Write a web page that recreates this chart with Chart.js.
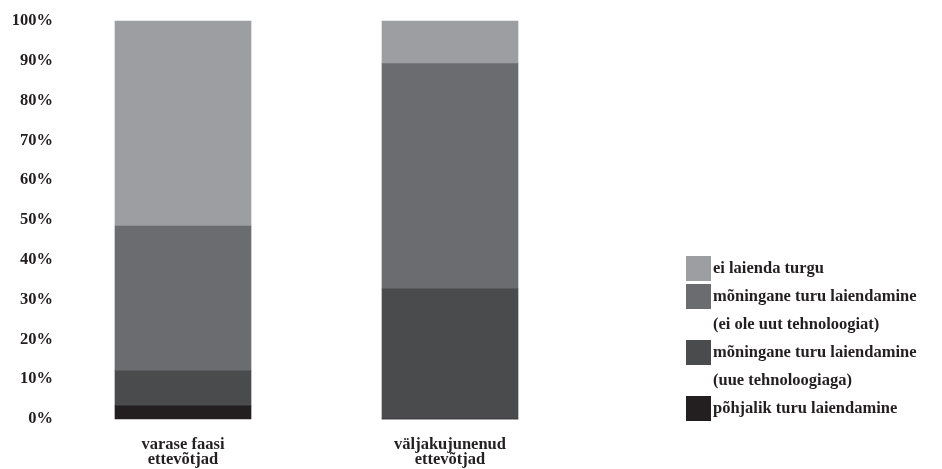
<!DOCTYPE html>
<html>
<head>
<meta charset="utf-8">
<script src="https://cdn.jsdelivr.net/npm/chart.js@4"></script>
<style>
  body { margin: 0; background: #fff; }
  #wrap { width: 942px; height: 469px; }
</style>
</head>
<body>
<div id="wrap"><canvas id="chart" width="942" height="469"></canvas></div>
<script>
// ==================== DATA ====================
var categories = [["varase faasi", "ettevõtjad"], ["väljakujunenud", "ettevõtjad"]];

// stack order: bottom first
var pohjalik = [3.3, 0];
var uueTehnoloogiaga = [8.8, 32.7];
var eiOleUut = [36.4, 56.6];
var eiLaienda = [51.5, 10.7];

var seriesLabels = [
    ["põhjalik turu laiendamine"],
    ["mõningane turu laiendamine", "(uue tehnoloogiaga)"],
    ["mõningane turu laiendamine", "(ei ole uut tehnoloogiat)"],
    ["ei laienda turgu"]
];
var seriesColors = ["#231f20", "#4a4b4d", "#6b6c70", "#9d9ea2"];

var yTicks = [0, 10, 20, 30, 40, 50, 60, 70, 80, 90, 100];

var textColor = "#231f20";
var serif = "'Liberation Serif', 'DejaVu Serif', serif";

// ==================== LEGEND ====================
// drawn by hand so the two-line labels sit like in the original
var sideLegend = {
    id: "sideLegend",
    afterDraw: function(chart) {
        var ctx = chart.ctx;
        var ds = chart.data.datasets;
        var x = 686, y = 269, step = 28;
        ctx.save();
        ctx.font = "bold 16.5px " + serif;
        ctx.textBaseline = "middle";
        ctx.textAlign = "left";
        for (var i = ds.length - 1; i >= 0; i--) {
            var lines = seriesLabels[i];
            ctx.fillStyle = ds[i].backgroundColor;
            ctx.fillRect(x, y - 13, 25, 25);
            ctx.fillStyle = textColor;
            for (var j = 0; j < lines.length; j++) {
                ctx.fillText(lines[j], x + 27, y);
                y += step;
            }
        }
        ctx.restore();
    }
};

// ==================== CHART ====================
var datasets = [];
var values = [pohjalik, uueTehnoloogiaga, eiOleUut, eiLaienda];
for (var i = 0; i < values.length; i++) {
    datasets.push({
        label: seriesLabels[i].join(" "),
        data: values[i],
        backgroundColor: seriesColors[i],
        borderWidth: 0,
        barThickness: 136,
        clip: false
    });
}

// chart area spans from the first bar centre to the second (x offset off),
// the y axis box is widened to fill the space on the left
new Chart(document.getElementById("chart"), {
    type: "bar",
    data: { labels: categories, datasets: datasets },
    plugins: [sideLegend],
    options: {
        responsive: false,
        animation: false,
        layout: { padding: { left: 0, top: 21, right: 492, bottom: 0 } },
        plugins: { legend: { display: false }, tooltip: { enabled: false } },
        scales: {
            x: {
                stacked: true,
                offset: false,
                grid: { display: false, drawTicks: false },
                border: { display: false },
                afterFit: function(s) {
                    s.height = 50;
                    s.paddingLeft = 0;
                    s.paddingRight = 0;
                },
                ticks: {
                    color: textColor,
                    padding: 18.5,
                    maxRotation: 0,
                    autoSkip: false,
                    font: { family: serif, weight: "bold", size: 16.5, lineHeight: 0.9 }
                }
            },
            y: {
                stacked: true,
                min: 0,
                max: 100,
                grid: { display: false, drawTicks: false },
                border: { display: false },
                afterFit: function(s) {
                    s.width = 183;
                    s.paddingTop = 0;
                    s.paddingBottom = 0;
                },
                afterBuildTicks: function(s) {
                    s.ticks = yTicks.map(function(v) { return { value: v }; });
                },
                ticks: {
                    color: textColor,
                    padding: 130,
                    font: { family: serif, weight: "bold", size: 16.5 },
                    callback: function(v) { return v + "%"; }
                }
            }
        }
    }
});
</script>
</body>
</html>
